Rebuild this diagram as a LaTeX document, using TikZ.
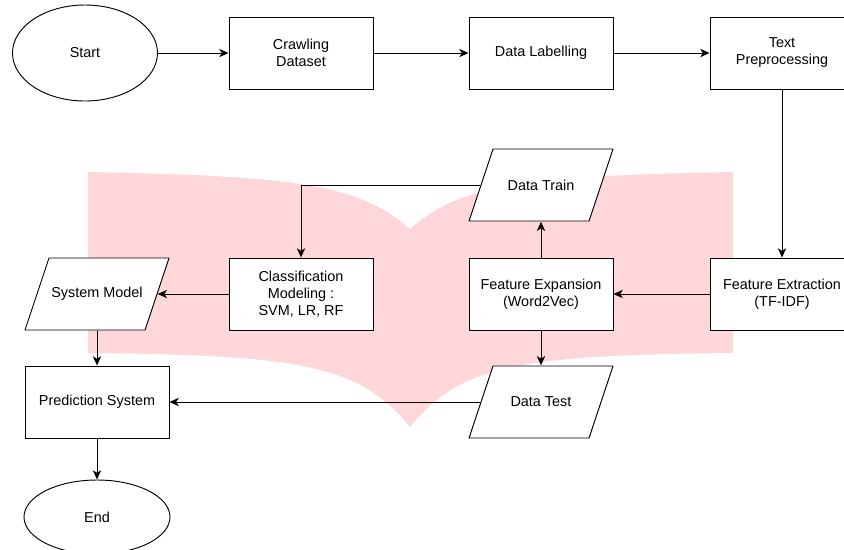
\documentclass[tikz,border=0pt]{standalone}
\usepackage{fontspec}
\setsansfont{Liberation Sans}
\usetikzlibrary{shapes.geometric,arrows.meta}

\definecolor{rosa}{RGB}{254,215,219}

\begin{document}
\begin{tikzpicture}[font=\sffamily, x=0.03cm, y=-0.03cm,
        testo/.style={font=\sffamily\fontsize{12.3}{14.5}\selectfont, align=center, inner sep=0pt},
        blocco/.style={testo, draw, fill=white, line width=0.8pt, minimum width=4.32cm, minimum height=2.16cm},
        dati/.style={testo, minimum width=4.32cm+0.8pt, minimum height=2.16cm+0.8pt,
            path picture={\draw[fill=white, line width=0.8pt]
                ([shift={(0.4pt,0.4pt)}]path picture bounding box.south west)
                -- ([shift={(-0.72cm-0.4pt,0.4pt)}]path picture bounding box.south east)
                -- ([shift={(-0.4pt,-0.4pt)}]path picture bounding box.north east)
                -- ([shift={(0.72cm+0.4pt,-0.4pt)}]path picture bounding box.north west)
                -- cycle;}},
        terminale/.style={testo, draw, fill=white, line width=0.8pt, ellipse},
        freccia/.style={line width=0.8pt, -{Stealth[length=2.8mm, width=2.5mm, inset=0.8mm]}}]

        % Area della figura (844 x 549 px)
        \useasboundingbox (0,0) rectangle (844,549);
        \clip (0,0) rectangle (844,549);

        % Filigrana a forma di libro sullo sfondo
        \fill[rosa] (88,172) .. controls (300,176) and (360,185) .. (410,229)
            .. controls (460,185) and (520,176) .. (733,172) -- (733,353)
            .. controls (520,355) and (460,365) .. (410,427)
            .. controls (360,365) and (300,355) .. (88,353) -- cycle;

        % Riga in alto
        \node[terminale, minimum width=4.35cm, minimum height=2.88cm] (start) at (85,53) {Start};
        \node[blocco] (crawl) at (301,53) {Crawling\\Dataset};
        \node[blocco] (label) at (541,53) {Data Labelling};
        \node[blocco] (prep) at (782,53) {Text\\Preprocessing};

        % Riga centrale
        \node[dati] (train) at (541,185) {Data Train};
        \node[blocco] (extract) at (782,294) {Feature Extraction\\(TF-IDF)};
        \node[blocco] (expand) at (541,294) {Feature Expansion\\(Word2Vec)};
        \node[blocco] (classify) at (301,294) {Classification\\Modeling :\\SVM, LR, RF};
        \node[dati] (sysmodel) at (97,294) {System Model};

        % Riga in basso
        \node[dati] (test) at (541,402) {Data Test};
        \node[blocco] (predict) at (97,402) {Prediction System};
        \node[terminale, minimum width=4.38cm, minimum height=2.22cm] (finish) at (97,517) {End};

        % Frecce
        \draw[freccia] (start) -- (crawl);
        \draw[freccia] (crawl) -- (label);
        \draw[freccia] (label) -- (prep);
        \draw[freccia] (prep) -- (extract);
        \draw[freccia] (extract) -- (expand);
        \draw[freccia] (expand) -- (train);
        \draw[freccia] (expand) -- (test);
        \draw[freccia] ([xshift=0.36cm]train.west) -| (classify.north);
        \draw[freccia] (classify) -- ([xshift=-0.36cm]sysmodel.east);
        \draw[freccia] (sysmodel) -- (predict);
        \draw[freccia] ([xshift=0.36cm]test.west) -- (predict.east);
        \draw[freccia] (predict) -- (finish);

    \end{tikzpicture}
\end{document}
